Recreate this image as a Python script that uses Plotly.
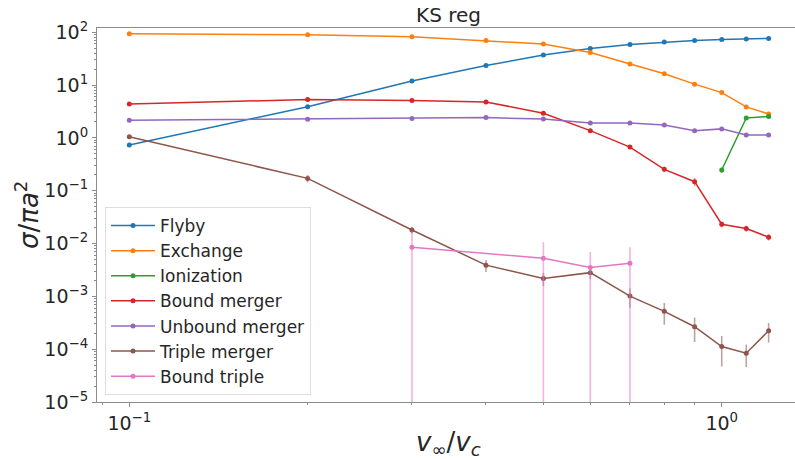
import numpy as np
import plotly.graph_objects as go

# Relative velocity v_inf / v_c
v = [0.1, 0.2, 0.3, 0.4, 0.5, 0.6, 0.7, 0.8, 0.9, 1.0, 1.1, 1.2]

# Cross sections sigma / (pi a^2) and their uncertainties
flyby = [0.73, 3.9, 11.9, 23.4, 36.9, 49.3, 58.7, 65.2, 69.9, 73.0, 74.3, 76.4]
flyby_err = [0.04, 0.12, 0.25, 0.35, 0.45, 0.5, 0.55, 0.55, 0.6, 0.6, 0.6, 0.6]

exchange = [93.5, 89.7, 82.2, 69.9, 59.7, 41.4, 24.9, 16.3, 10.4, 7.2, 3.86, 2.84]
exchange_err = [0.6, 0.6, 0.6, 0.55, 0.5, 0.45, 0.35, 0.3, 0.25, 0.2, 0.15, 0.12]

v_ion = [1.0, 1.1, 1.2]
ionization = [0.246, 2.39, 2.53]
ionization_err = [0.03, 0.12, 0.12]

bound_merger = [4.4, 5.3, 5.08, 4.8, 2.93, 1.37, 0.67, 0.254, 0.148, 0.0232, 0.0192, 0.0132]
bound_merger_err = [0.15, 0.17, 0.16, 0.16, 0.12, 0.08, 0.06, 0.03, 0.025, 0.0028, 0.0025, 0.0018]

unbound_merger = [2.16, 2.25, 2.32, 2.42, 2.28, 1.92, 1.92, 1.76, 1.37, 1.48, 1.13, 1.13]
unbound_merger_err = [0.1, 0.1, 0.1, 0.1, 0.1, 0.09, 0.09, 0.09, 0.08, 0.08, 0.07, 0.07]

triple_merger = [1.05, 0.171, 0.018, 0.0039, 0.00217, 0.00281, 0.00101, 0.00052,
                 0.000266, 0.000112, 8.4e-5, 2.23e-4]
triple_merger_err = [0.07, 0.027, 0.0025, 0.001, 0.0006, 0.0007, 0.0004, 0.00023,
                     0.00013, 0.000065, 0.000038, 0.00009]

v_bt = [0.3, 0.5, 0.6, 0.7]
bound_triple = [0.0085, 0.00526, 0.0035, 0.00423]
bound_triple_err = [0.0085, 0.00526, 0.0035, 0.00423]

series = [
    ("Flyby", v, flyby, flyby_err, "31,119,180"),
    ("Exchange", v, exchange, exchange_err, "255,127,14"),
    ("Ionization", v_ion, ionization, ionization_err, "44,160,44"),
    ("Bound merger", v, bound_merger, bound_merger_err, "214,39,40"),
    ("Unbound merger", v, unbound_merger, unbound_merger_err, "148,103,189"),
    ("Triple merger", v, triple_merger, triple_merger_err, "140,86,75"),
    ("Bound triple", v_bt, bound_triple, bound_triple_err, "227,119,194"),
]

fig = go.Figure()
for name, xs, ys, es, rgb in series:
    fig.add_trace(go.Scatter(
        x=xs, y=ys, name=name, mode="lines+markers",
        line=dict(color=f"rgb({rgb})", width=1.5),
        marker=dict(color=f"rgb({rgb})", size=5),
        error_y=dict(type="data", array=es, visible=True,
                     color=f"rgba({rgb},0.55)", thickness=1.6, width=0),
    ))

W, H = 795, 459
L, R, T, B = 97, 0, 28, 57

x_major = [0.1, 1.0]
x_major_text = ["10<sup>\u22121</sup>", "10<sup>0</sup>"]
x_minor = [0.09, 0.2, 0.3, 0.4, 0.5, 0.6, 0.7, 0.8, 0.9]

y_exps = [-5, -4, -3, -2, -1, 0, 1, 2]
y_major = [10.0 ** e for e in y_exps]
y_major_text = [f"10<sup>{'\u2212' if e < 0 else ''}{abs(e)}</sup>" for e in y_exps]
y_minor = [m * 10.0 ** e for e in range(-5, 2) for m in range(2, 10)]

spine = "#8c8c8c"
tick_font = dict(family="DejaVu Sans", size=19, color="#262626")

fig.update_xaxes(
    type="log", range=[-1.0545, 0.1237],
    showgrid=False, zeroline=False,
    showline=True, linecolor=spine, linewidth=1.2, mirror=True,
    ticks="outside", ticklen=4, tickcolor=spine, tickwidth=1,
    tickvals=x_major, ticktext=x_major_text, tickfont=tick_font,
    minor=dict(ticks="outside", ticklen=2, tickcolor=spine, tickvals=x_minor, showgrid=False),
)
fig.update_yaxes(
    type="log", range=[-5, 2.08],
    showgrid=False, zeroline=False,
    showline=True, linecolor=spine, linewidth=1.2,
    ticks="outside", ticklen=4, tickcolor=spine, tickwidth=1,
    tickvals=y_major, ticktext=y_major_text, tickfont=tick_font,
    minor=dict(ticks="outside", ticklen=2, tickcolor=spine, tickvals=y_minor, showgrid=False),
)

fig.update_layout(
    width=W, height=H,
    margin=dict(l=L, r=R, t=T, b=B, pad=0),
    paper_bgcolor="white", plot_bgcolor="white",
    font=dict(family="DejaVu Sans", color="#262626"),
    title=dict(text="KS reg", font=dict(size=20, color="#262626"),
               xref="container", yref="container",
               x=448.6 / W, y=1 - 15 / H, xanchor="center", yanchor="middle"),
    legend=dict(
        x=(105 - L) / (W - L - R), y=(H - B - 207) / (H - T - B),
        xanchor="left", yanchor="top", itemwidth=44,
        bgcolor="rgba(255,255,255,0.8)", bordercolor="#dddddd", borderwidth=1,
        font=dict(size=17, color="#262626"),
    ),
    showlegend=True,
    annotations=[
        dict(text="<i>v</i><sub>\u221e</sub>/<i>v</i><sub><i>c</i></sub>",
             xref="paper", yref="paper",
             x=(448.6 - L) / (W - L - R), y=-(443 - (H - B)) / (H - T - B),
             xanchor="center", yanchor="middle", showarrow=False,
             font=dict(size=26, color="#262626")),
        dict(text="<i>\u03c3</i>/<i>\u03c0a</i><sup>2</sup>",
             xref="paper", yref="paper",
             x=-(L - 27) / (W - L - R), y=0.5,
             xanchor="center", yanchor="middle", textangle=-90, showarrow=False,
             font=dict(size=26, color="#262626")),
    ],
)

fig.write_html("out.html")
